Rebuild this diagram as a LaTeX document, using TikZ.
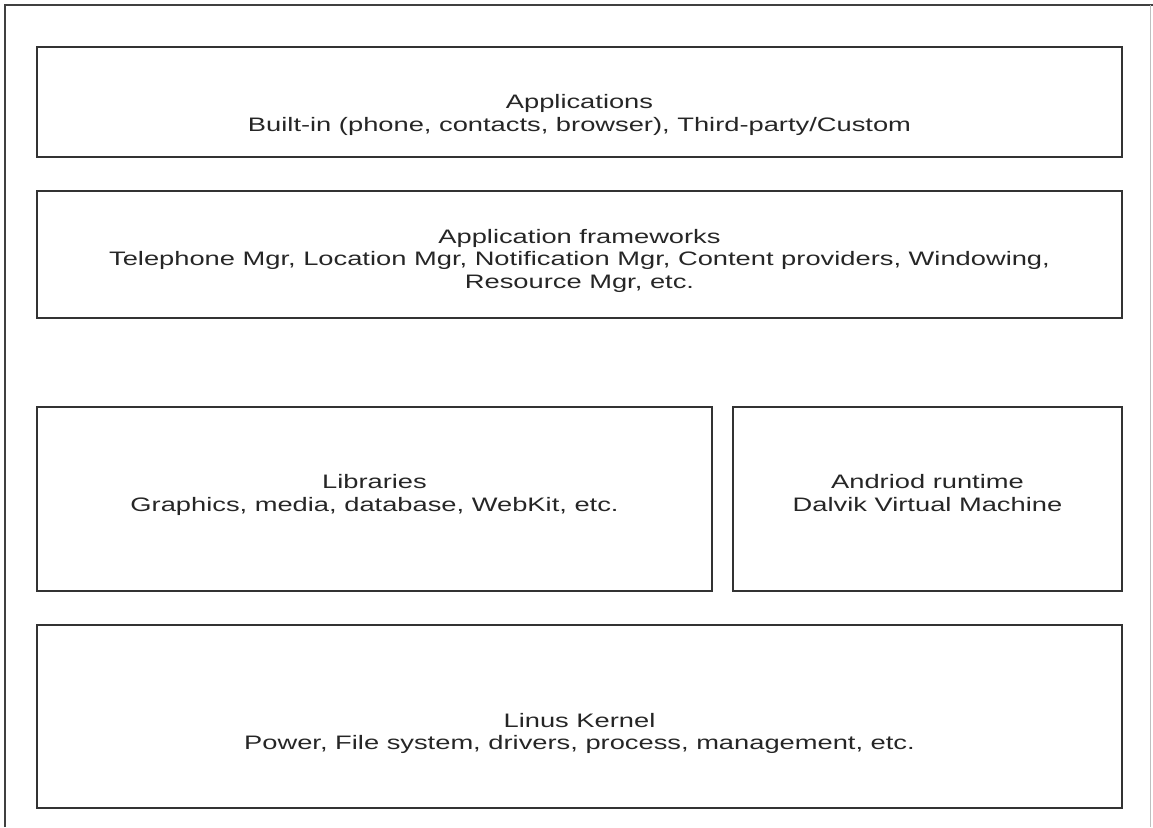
\documentclass[tikz,border=0pt]{standalone}
\usepackage{fontspec}
\setmainfont{Liberation Sans}[FakeStretch=1.4]
\usepackage{tikz}

\begin{document}
\begin{tikzpicture}[x=1pt,y=-1pt]
	\tikzstyle{couche}=[draw=black!80, line width=1.6pt, inner sep=0pt]
	\tikzstyle{texte}=[align=center, font=\fontsize{19.5}{22.5}\selectfont, text=black!85]
	\useasboundingbox (0,0) rectangle (1153,827);
	% cadre
	\draw[black!75, line width=1.5pt] (5,827) -- (5,5) -- (1153,5);
	\draw[black!25, line width=1pt] (1150,5) -- (1150,827);
	% couches
	\node[couche, minimum width=1085pt, minimum height=110pt] (A) at (579.5,102) {};
	\node[couche, minimum width=1085pt, minimum height=127pt] (B) at (579.5,254.5) {};
	\node[couche, minimum width=675pt, minimum height=184pt] (C) at (374.5,499) {};
	\node[couche, minimum width=389pt, minimum height=184pt] (D) at (927.5,499) {};
	\node[couche, minimum width=1085pt, minimum height=183pt] (E) at (579.5,716.5) {};
	% textes
	\node[texte] (tA) at ([yshift=-13pt]A.center)
		{Applications\\Built-in (phone, contacts, browser), Third-party/Custom};
	\node[texte] (tB) at ([yshift=-6pt]B.center)
		{Application frameworks\\Telephone Mgr, Location Mgr, Notification Mgr, Content providers, Windowing,\\Resource Mgr, etc.};
	\node[texte] (tC) at ([yshift=4pt]C.center)
		{Libraries\\Graphics, media, database, WebKit, etc.};
	\node[texte] (tD) at ([yshift=6pt]D.center)
		{Andriod runtime\\Dalvik Virtual Machine};
	\node[texte] (tE) at ([yshift=-17pt]E.center)
		{Linus Kernel\\Power, File system, drivers, process, management, etc.};
\end{tikzpicture}
\end{document}
